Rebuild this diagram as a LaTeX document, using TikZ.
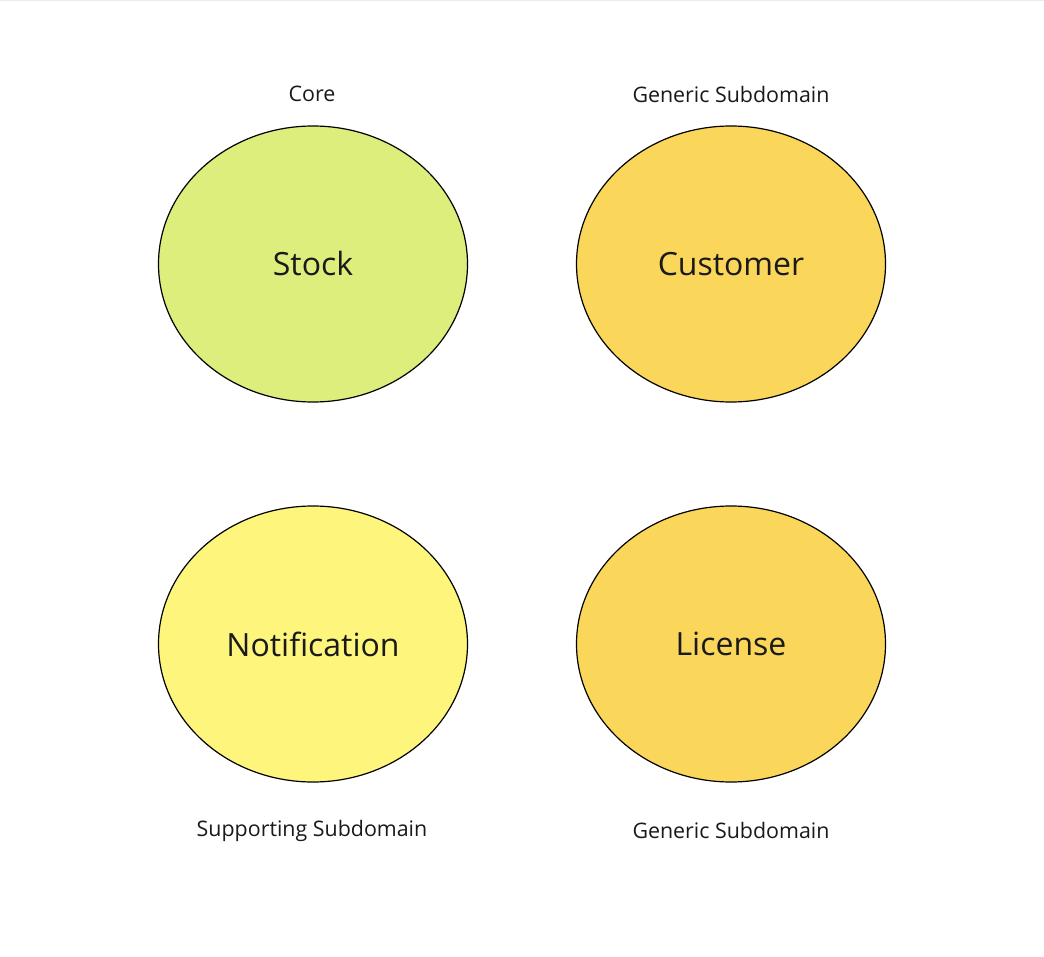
\documentclass[tikz,border=0pt]{standalone}
\usepackage{fontspec}
\setmainfont{Open Sans}
\usetikzlibrary{shapes.geometric}
\definecolor{limefill}{HTML}{DDEE7D}
\definecolor{orangefill}{HTML}{FAD75B}
\definecolor{yellowfill}{HTML}{FEF57D}
\definecolor{txt}{HTML}{1A1A1A}
\tikzset{
  subdom/.style={ellipse, draw=black, line width=1.2pt, minimum width=309pt, minimum height=276pt, inner sep=0pt, font=\fontsize{32}{38}\selectfont, text=txt},
  tag/.style={font=\fontsize{21.4}{25}\selectfont, text=txt, inner sep=0pt}
}
\begin{document}
\begin{tikzpicture}[x=1pt,y=-1pt]
\useasboundingbox (0,0) rectangle (1044,957);
\fill[white] (0,0) rectangle (1044,957);
\draw[black!8, line width=1pt] (0,0.5) -- (1044,0.5);
\node[subdom, fill=limefill] (stock) at (313,264) {Stock};
\node[subdom, fill=orangefill] (customer) at (731,264) {Customer};
\node[subdom, fill=yellowfill] (notif) at (313,644) {Notification};
\node[subdom, fill=orangefill] (license) at (731,644) {License};
\node[tag] (core) at (312,94) {Core};
\node[tag] (gen1) at (731,94) {Generic Subdomain};
\node[tag] (supp) at (312,831) {Supporting Subdomain};
\node[tag] (gen2) at (731,830) {Generic Subdomain};
\end{tikzpicture}
\end{document}
